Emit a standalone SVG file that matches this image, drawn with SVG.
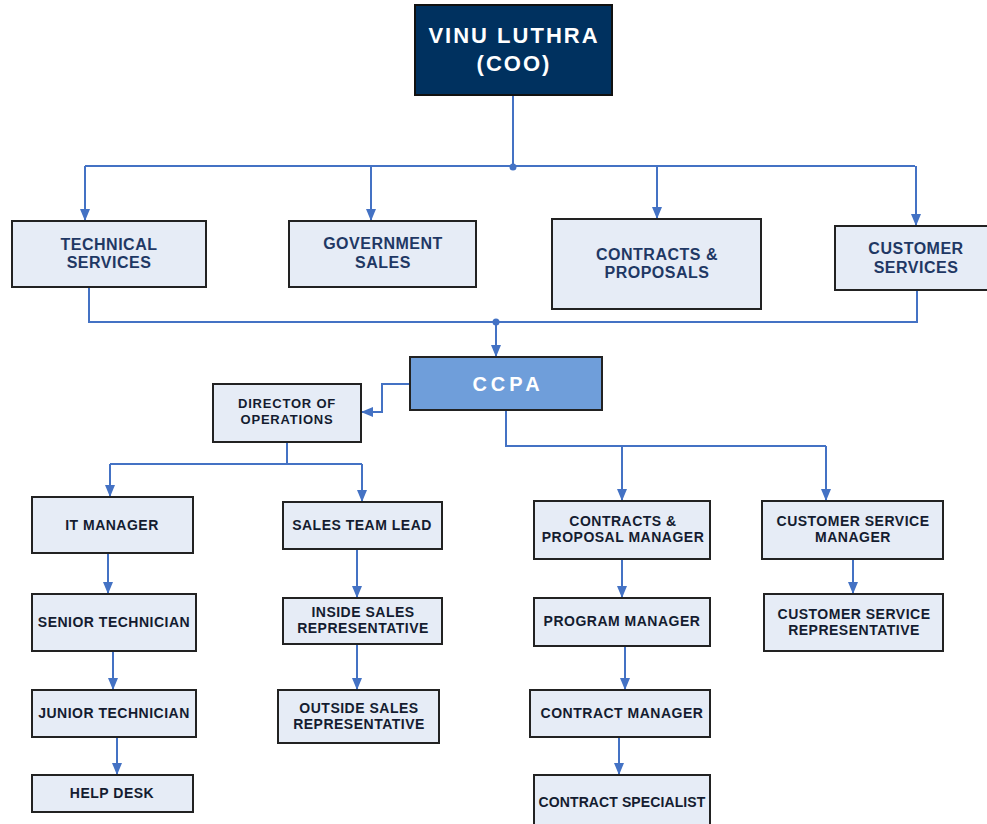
<svg xmlns="http://www.w3.org/2000/svg" width="987" height="824" viewBox="0 0 987 824">
<defs>
<marker id="ah" markerWidth="12" markerHeight="10" refX="12" refY="5" orient="auto" markerUnits="userSpaceOnUse"><path d="M0,0 L12,5 L0,10 z" fill="#4472C4"/></marker>
<style>
.box{fill:#E6ECF6;stroke:#222;stroke-width:2}
.t1{font-family:"Liberation Sans",Arial,sans-serif;font-weight:bold;font-size:16px;letter-spacing:0.5px;fill:#1F3864;text-anchor:middle}
.t2{font-family:"Liberation Sans",Arial,sans-serif;font-weight:bold;font-size:14px;letter-spacing:0.5px;fill:#141c30;text-anchor:middle}
.c{fill:none;stroke:#4472C4;stroke-width:2}
.a{marker-end:url(#ah)}
</style>
</defs>
<g id="connectors">
<path class="c" d="M513,95 V166 M85,166 H915"/>
<path class="c a" d="M85,166 V221"/>
<path class="c a" d="M371,166 V221"/>
<path class="c a" d="M657,166 V219"/>
<path class="c a" d="M916,166 V226"/>
<circle cx="513" cy="167" r="3.5" fill="#4472C4"/>
<path class="c" d="M89,287 V322 H917 V290"/>
<circle cx="496" cy="322" r="3.5" fill="#4472C4"/>
<path class="c a" d="M496,322 V357"/>
<path class="c a" d="M410,384 H382 V412 H361"/>
<path class="c" d="M506,410 V446 H826"/>
<path class="c a" d="M622,446 V501"/>
<path class="c a" d="M826,446 V501"/>
<path class="c" d="M287,442 V464 M110,464 H362"/>
<path class="c a" d="M110,464 V497"/>
<path class="c a" d="M362,464 V502"/>
<path class="c a" d="M108,553 V594"/>
<path class="c a" d="M113,651 V690"/>
<path class="c a" d="M117,737 V775"/>
<path class="c a" d="M357,549 V598"/>
<path class="c a" d="M357,644 V690"/>
<path class="c a" d="M622,559 V598"/>
<path class="c a" d="M625,646 V690"/>
<path class="c a" d="M619,737 V775"/>
<path class="c a" d="M853,559 V594"/>
</g>
<g id="coo">
<rect x="415" y="5" width="197" height="90" fill="#00315F" stroke="#111" stroke-width="2"/>
<text x="514" y="43" font-family="Liberation Sans,Arial,sans-serif" font-weight="bold" font-size="22" letter-spacing="2" fill="#fff" text-anchor="middle">VINU LUTHRA</text>
<text x="514" y="71" font-family="Liberation Sans,Arial,sans-serif" font-weight="bold" font-size="22" letter-spacing="2" fill="#fff" text-anchor="middle">(COO)</text>
</g>
<g id="technical-services"><rect class="box" x="12" y="221" width="194" height="66"/><text class="t1" x="109" y="250">TECHNICAL</text><text class="t1" x="109" y="268">SERVICES</text></g>
<g id="government-sales"><rect class="box" x="289" y="221" width="187" height="66"/><text class="t1" x="383" y="249">GOVERNMENT</text><text class="t1" x="383" y="268">SALES</text></g>
<g id="contracts-proposals"><rect class="box" x="552" y="219" width="209" height="90"/><text class="t1" x="657" y="260">CONTRACTS &amp;</text><text class="t1" x="657" y="278">PROPOSALS</text></g>
<g id="customer-services"><rect class="box" x="835" y="226" width="155" height="64"/><text class="t1" x="916" y="254">CUSTOMER</text><text class="t1" x="916" y="273">SERVICES</text></g>
<g id="ccpa"><rect x="410" y="357" width="192" height="53" fill="#6F9EDA" stroke="#222" stroke-width="2"/><text x="508" y="391" font-family="Liberation Sans,Arial,sans-serif" font-weight="bold" font-size="20" letter-spacing="4" fill="#fff" text-anchor="middle">CCPA</text></g>
<g id="director-operations"><rect class="box" x="213" y="384" width="148" height="58"/><text class="t2" x="287" y="408" style="font-size:13px;letter-spacing:0.8px">DIRECTOR OF</text><text class="t2" x="287" y="424" style="font-size:13px;letter-spacing:0.8px">OPERATIONS</text></g>
<g id="it-manager"><rect class="box" x="32" y="497" width="161" height="56"/><text class="t2" x="112" y="530">IT MANAGER</text></g>
<g id="senior-technician"><rect class="box" x="32" y="594" width="164" height="57"/><text class="t2" x="114" y="627">SENIOR TECHNICIAN</text></g>
<g id="junior-technician"><rect class="box" x="32" y="690" width="164" height="47"/><text class="t2" x="114" y="718">JUNIOR TECHNICIAN</text></g>
<g id="help-desk"><rect class="box" x="32" y="775" width="161" height="37"/><text class="t2" x="112" y="798">HELP DESK</text></g>
<g id="sales-team-lead"><rect class="box" x="283" y="502" width="159" height="47"/><text class="t2" x="362" y="530">SALES TEAM LEAD</text></g>
<g id="inside-sales"><rect class="box" x="283" y="598" width="159" height="46"/><text class="t2" x="363" y="617">INSIDE SALES</text><text class="t2" x="363" y="633">REPRESENTATIVE</text></g>
<g id="outside-sales"><rect class="box" x="278" y="690" width="161" height="53"/><text class="t2" x="359" y="713">OUTSIDE SALES</text><text class="t2" x="359" y="729">REPRESENTATIVE</text></g>
<g id="contracts-proposal-manager"><rect class="box" x="534" y="501" width="176" height="58"/><text class="t2" x="623" y="526">CONTRACTS &amp;</text><text class="t2" x="623" y="542">PROPOSAL MANAGER</text></g>
<g id="program-manager"><rect class="box" x="534" y="598" width="176" height="48"/><text class="t2" x="622" y="626">PROGRAM MANAGER</text></g>
<g id="contract-manager"><rect class="box" x="530" y="690" width="180" height="47"/><text class="t2" x="622" y="718">CONTRACT MANAGER</text></g>
<g id="contract-specialist"><rect class="box" x="534" y="775" width="176" height="60"/><text class="t2" x="622" y="807" style="letter-spacing:0.1px">CONTRACT SPECIALIST</text></g>
<g id="customer-service-manager"><rect class="box" x="762" y="501" width="181" height="58"/><text class="t2" x="853" y="526">CUSTOMER SERVICE</text><text class="t2" x="853" y="542">MANAGER</text></g>
<g id="customer-service-rep"><rect class="box" x="764" y="594" width="179" height="57"/><text class="t2" x="854" y="619">CUSTOMER SERVICE</text><text class="t2" x="854" y="635">REPRESENTATIVE</text></g>
</svg>
